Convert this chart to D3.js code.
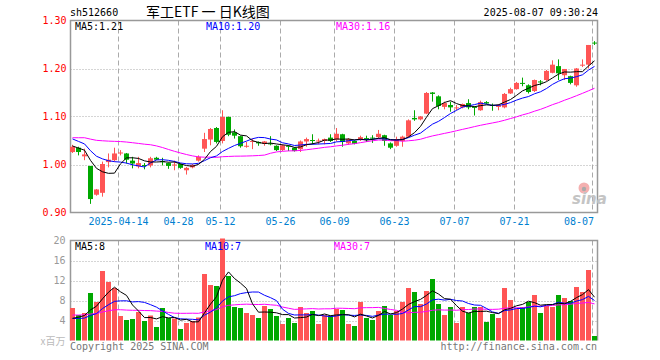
<!DOCTYPE html>
<html>
<head>
<meta charset="utf-8">
<script src="https://cdn.jsdelivr.net/npm/d3@7"></script>
<style>
  body { margin: 0; background: #fff; }
  text { font-family: "DejaVu Sans Mono", monospace; font-size: 10px; }
</style>
</head>
<body>
<svg id="chart" width="660" height="360"></svg>
<script>
// trading days shown on the chart (2025)
var dates = ["04-01","04-02","04-03","04-07","04-08","04-09","04-10","04-11","04-14","04-15","04-16","04-17","04-18","04-21","04-22","04-23","04-24","04-25","04-28","04-29","04-30",
  "05-06","05-07","05-08","05-09","05-12","05-13","05-14","05-15","05-16","05-19","05-20","05-21","05-22","05-23","05-26","05-27","05-28","05-29","05-30",
  "06-03","06-04","06-05","06-06","06-09","06-10","06-11","06-12","06-13","06-16","06-17","06-18","06-19","06-20","06-23","06-24","06-25","06-26","06-27","06-30",
  "07-01","07-02","07-03","07-04","07-07","07-08","07-09","07-10","07-11","07-14","07-15","07-16","07-17","07-18","07-21","07-22","07-23","07-24","07-25","07-28","07-29","07-30","07-31",
  "08-01","08-04","08-05","08-06","08-07"];

var open  = [1.026,1.035,1.017,0.997,0.937,0.941,1.005,1.009,1.024,1.023,1.008,0.996,0.999,0.998,1.014,1.007,1.003,0.999,1.001,0.988,0.994,
  1.008,1.033,1.052,1.076,1.049,1.099,1.067,1.059,1.038,1.048,1.047,1.043,1.044,1.039,1.030,1.039,1.035,1.032,1.048,
  1.051,1.049,1.049,1.056,1.052,1.063,1.044,1.049,1.051,1.055,1.056,1.057,1.061,1.044,1.039,1.049,1.058,1.097,1.094,1.106,
  1.150,1.142,1.120,1.124,1.118,1.119,1.128,1.120,1.113,1.130,1.124,1.120,1.119,1.148,1.157,1.170,1.165,1.153,1.173,1.176,1.191,1.205,1.186,
  1.184,1.165,1.207,1.208,1.254];
var high  = [1.041,1.037,1.033,0.997,0.949,1.006,1.023,1.035,1.030,1.024,1.016,1.016,1.003,1.016,1.016,1.014,1.004,1.008,1.002,0.995,1.001,
  1.019,1.066,1.076,1.078,1.113,1.100,1.073,1.060,1.047,1.054,1.048,1.049,1.059,1.040,1.042,1.040,1.036,1.050,1.056,
  1.063,1.054,1.054,1.063,1.076,1.064,1.055,1.050,1.060,1.060,1.061,1.072,1.062,1.046,1.058,1.060,1.094,1.113,1.101,1.151,
  1.151,1.144,1.131,1.131,1.124,1.127,1.136,1.121,1.133,1.132,1.127,1.126,1.149,1.160,1.172,1.181,1.167,1.177,1.176,1.197,1.217,1.219,1.199,
  1.185,1.201,1.219,1.249,1.257];
var low   = [1.024,1.019,1.009,0.918,0.935,0.933,0.994,1.006,1.019,1.002,0.992,0.992,0.990,0.994,1.009,0.998,0.991,0.988,0.991,0.979,0.992,
  1.006,1.026,1.040,1.044,1.044,1.059,1.054,1.035,1.035,1.032,1.039,1.039,1.040,1.028,1.028,1.028,1.027,1.026,1.037,
  1.042,1.042,1.042,1.047,1.048,1.037,1.041,1.042,1.049,1.047,1.045,1.054,1.039,1.032,1.037,1.037,1.056,1.091,1.092,1.105,
  1.131,1.115,1.115,1.110,1.113,1.117,1.115,1.102,1.112,1.126,1.112,1.113,1.117,1.147,1.156,1.163,1.148,1.151,1.165,1.174,1.190,1.176,1.176,
  1.167,1.162,1.203,1.200,1.249];
var close = [1.037,1.026,1.021,0.928,0.948,1.001,1.010,1.023,1.025,1.010,1.002,1.003,0.998,1.013,1.010,1.006,0.997,1.000,0.993,0.993,0.999,
  1.016,1.053,1.074,1.047,1.099,1.062,1.060,1.038,1.039,1.049,1.044,1.048,1.043,1.030,1.040,1.037,1.028,1.048,1.053,
  1.050,1.050,1.053,1.049,1.064,1.047,1.053,1.043,1.057,1.054,1.055,1.064,1.049,1.035,1.053,1.058,1.092,1.094,1.100,1.149,
  1.147,1.122,1.128,1.119,1.119,1.126,1.119,1.119,1.130,1.127,1.122,1.124,1.147,1.157,1.170,1.169,1.151,1.176,1.172,1.195,1.208,1.190,1.199,
  1.170,1.200,1.208,1.249,1.253];
// volume, millions
var volume = [6.5,5.1,5.5,9.5,7.7,13.9,11.7,10.5,4.9,4.1,4.3,5.7,3.9,5.0,2.7,6.5,4.5,4.4,2.3,3.5,3.9,
  4.6,13.3,11.1,10.9,20.4,12.9,6.7,6.5,5.5,5.1,4.5,6.9,6.3,4.9,3.3,4.5,3.5,6.7,5.5,
  5.9,3.3,5.1,5.0,6.3,6.1,3.3,2.9,7.7,4.5,4.1,5.9,6.9,5.1,5.9,7.7,10.5,9.7,7.3,9.9,
  12.3,7.3,5.1,6.7,3.5,6.7,5.5,6.7,6.7,3.7,5.3,4.5,10.5,8.1,6.3,6.7,7.7,9.1,5.5,6.9,6.7,9.1,8.5,
  7.9,10.7,9.7,14.1,0.9];

// sessions before the visible window, only feed the moving averages
var preClose = [1.028,1.020,1.016,1.023,1.028,1.033,1.036,1.038,1.040,1.044,1.048,1.046,1.047,
  1.083,1.108,1.118,1.115,1.098,1.088,1.084,1.078,1.073,1.070,1.063,1.056,1.048,1.043,1.034,1.031];
var preVol = [5.0,4.6,4.4,4.8,4.2,4.7,4.6,4.6,6.2,5.5,5.9,5.2,5.6,5.4,
  8.2,11.0,9.0,3.0,3.3,3.4,5.2,4.6,4.3,4.0,3.8,4.0,3.8,3.9,4.0];

var priceTicks = [0.90, 1.00, 1.10, 1.20, 1.30];
var volTicks = [4, 8, 12, 16, 20];
var tickDates = ["04-14","04-28","05-12","05-26","06-09","06-23","07-07","07-21","08-07"];
var priceMaText = ["MA5:1.21", "MA10:1.20", "MA30:1.16"];
var volMaText = ["MA5:8", "MA10:7", "MA30:7"];

var RED = "#ff5555", GREEN = "#00a800";
var maColors = ["#000000", "#0000ff", "#ff00ff"];
var maDays = [5, 10, 30];

var svg = d3.select("#chart");

var x = d3.scaleBand().domain(d3.range(dates.length)).range([69.5, 597.5]);
var y = d3.scaleLinear().domain([0.9, 1.3]).range([212.5, 20.5]);
var yv = d3.scaleLinear().domain([0, 20]).range([340.5, 240.5]);

function movingAvg(pre, arr, n) {
  var all = pre.concat(arr);
  return arr.map(function (d, i) {
    var end = i + pre.length + 1;
    return d3.mean(all.slice(end - n, end));
  });
}

// header
svg.append("text").attr("x", 70).attr("y", 16).text("sh512660");
svg.append("text").attr("x", 146).attr("y", 17)
  .style("font-family", "'Noto Sans CJK SC'").style("font-size", "14px")
  .text("军工ETF 一 日K线图");
svg.append("text").attr("x", 598).attr("y", 16).attr("text-anchor", "end").text("2025-08-07 09:30:24");

// ----- price panel -----
var gp = svg.append("g");
gp.selectAll(".hgrid").data([1.0, 1.1, 1.2]).enter().append("line")
  .attr("x1", 70.5).attr("x2", 597.5)
  .attr("y1", function (d) { return Math.round(y(d)) + 0.5; })
  .attr("y2", function (d) { return Math.round(y(d)) + 0.5; })
  .attr("stroke", "#aaa").attr("stroke-dasharray", "1,2");

gp.selectAll(".vgrid").data(tickDates).enter().append("line")
  .attr("x1", function (d) { return x(dates.indexOf(d)) + 1; })
  .attr("x2", function (d) { return x(dates.indexOf(d)) + 1; })
  .attr("y1", 20.5).attr("y2", 212.5)
  .attr("stroke", "#aaa").attr("stroke-dasharray", "5,3");

// sina watermark
var wm = svg.append("g");
wm.append("circle").attr("cx", 584).attr("cy", 188).attr("r", 5.5).attr("fill", "#f4b0b0");
wm.append("circle").attr("cx", 584).attr("cy", 189).attr("r", 2.2).attr("fill", "#aaa");
wm.append("text").attr("x", 572).attr("y", 204)
  .style("font-family", "'DejaVu Sans'").style("font-size", "15px")
  .style("font-style", "italic").style("font-weight", "bold")
  .attr("fill", "#c4c4c4").text("sina");

gp.append("rect").attr("x", 70.5).attr("y", 20.5).attr("width", 527).attr("height", 192)
  .attr("fill", "none").attr("stroke", "#999").attr("stroke-width", 1.5);

// candles
var candles = gp.selectAll(".candle").data(dates).enter().append("g");
candles.append("line")
  .attr("x1", function (d, i) { return x(i) + 3; })
  .attr("x2", function (d, i) { return x(i) + 3; })
  .attr("y1", function (d, i) { return y(high[i]); })
  .attr("y2", function (d, i) { return y(low[i]); })
  .attr("stroke", function (d, i) { return close[i] >= open[i] ? RED : GREEN; });
candles.append("rect")
  .attr("x", function (d, i) { return x(i) + 0.5; })
  .attr("width", 5)
  .attr("y", function (d, i) { return y(Math.max(open[i], close[i])); })
  .attr("height", function (d, i) { return Math.max(1, Math.abs(y(open[i]) - y(close[i]))); })
  .attr("fill", function (d, i) { return close[i] >= open[i] ? RED : GREEN; });

// price moving averages
var lineP = d3.line().x(function (d, i) { return x(i) + 3; }).y(function (d) { return y(d); });
[2, 1, 0].forEach(function (k) {
  gp.append("path").datum(movingAvg(preClose, close, maDays[k]))
    .attr("d", lineP).attr("fill", "none").attr("stroke", maColors[k]).attr("stroke-width", 1);
});
[75, 206, 336].forEach(function (px, k) {
  gp.append("text").attr("x", px).attr("y", 30).attr("fill", maColors[k]).text(priceMaText[k]);
});

// price axis labels
svg.selectAll(".plab").data(priceTicks).enter().append("text")
  .attr("x", 66.5).attr("y", function (d) { return y(d) + 3.5; })
  .attr("text-anchor", "end").attr("fill", "#ff0000")
  .text(function (d) { return d.toFixed(2); });

// date labels
svg.selectAll(".dlab").data(tickDates).enter().append("text")
  .attr("x", function (d, i) {
    var cx = x(dates.indexOf(d)) + 1;
    return i === tickDates.length - 1 ? 594 : cx;
  })
  .attr("y", 225)
  .attr("text-anchor", function (d, i) { return i === tickDates.length - 1 ? "end" : "middle"; })
  .attr("fill", "#0080d0")
  .text(function (d, i) { return i === 0 ? "2025-" + d : d; });

// ----- volume panel -----
var gv = svg.append("g");
gv.selectAll(".vh").data(volTicks.slice(0, 4)).enter().append("line")
  .attr("x1", 70.5).attr("x2", 597.5)
  .attr("y1", function (d) { return Math.round(yv(d)) + 0.5; })
  .attr("y2", function (d) { return Math.round(yv(d)) + 0.5; })
  .attr("stroke", "#aaa").attr("stroke-dasharray", "1,2");
gv.selectAll(".vv").data(tickDates).enter().append("line")
  .attr("x1", function (d) { return x(dates.indexOf(d)) + 1; })
  .attr("x2", function (d) { return x(dates.indexOf(d)) + 1; })
  .attr("y1", 240.5).attr("y2", 340.5)
  .attr("stroke", "#aaa").attr("stroke-dasharray", "5,3");
gv.append("path").attr("d", "M70.5,340.5V240.5H597.5V340.5")
  .attr("fill", "none").attr("stroke", "#999").attr("stroke-width", 1.5);

gv.selectAll(".vbar").data(volume).enter().append("rect")
  .attr("x", function (d, i) { return x(i) + 0.5; })
  .attr("width", 5)
  .attr("y", function (d) { return yv(d); })
  .attr("height", function (d) { return yv(0) - yv(d); })
  .attr("fill", function (d, i) { return close[i] >= open[i] ? RED : GREEN; });

var lineV = d3.line().x(function (d, i) { return x(i) + 3; }).y(function (d) { return yv(d); });
[2, 1, 0].forEach(function (k) {
  gv.append("path").datum(movingAvg(preVol, volume, maDays[k]))
    .attr("d", lineV).attr("fill", "none").attr("stroke", maColors[k]).attr("stroke-width", 1);
});
[75, 205, 334].forEach(function (px, k) {
  gv.append("text").attr("x", px).attr("y", 250).attr("fill", maColors[k]).text(volMaText[k]);
});

svg.selectAll(".vlab").data(volTicks).enter().append("text")
  .attr("x", 65.5).attr("y", function (d) { return yv(d) + 3.5; })
  .attr("text-anchor", "end").attr("fill", "#999")
  .text(function (d) { return d; });
svg.append("text").attr("x", 65.5).attr("y", 345).attr("text-anchor", "end")
  .attr("fill", "#bbb").style("font-family", "'Noto Sans CJK SC'").style("font-size", "10px")
  .text("x百万");

// footer
svg.append("text").attr("x", 70).attr("y", 350).attr("fill", "#777").text("Copyright 2025 SINA.COM");
svg.append("text").attr("x", 597).attr("y", 350).attr("text-anchor", "end").attr("fill", "#777")
  .text("http://finance.sina.com.cn");
</script>
</body>
</html>
